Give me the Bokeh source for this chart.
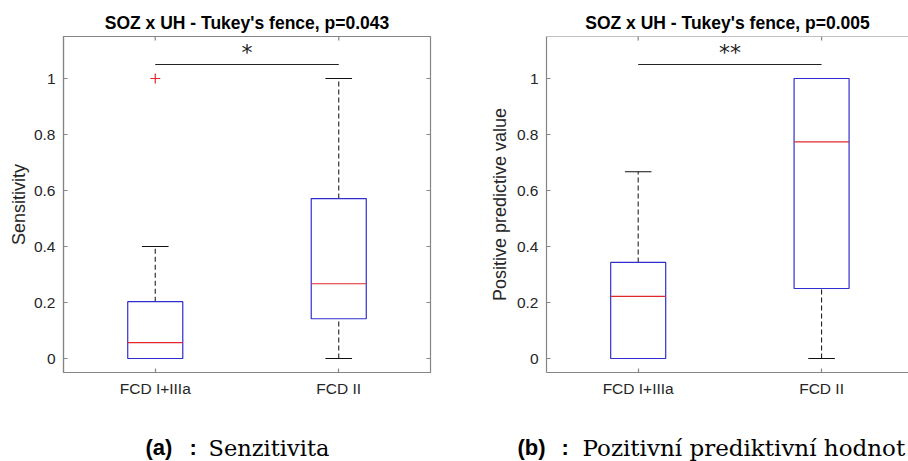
import math
from bokeh.plotting import figure
from bokeh.models import Range1d, FixedTicker, NumeralTickFormatter, Label, Span
from bokeh.layouts import row, column
from bokeh.embed import file_html
from bokeh.resources import INLINE
from bokeh.core.properties import value

# ---------------- data ----------------
categories = ["FCD I+IIIa", "FCD II"]
positions = [1, 2]
y_ticks = [0, 0.2, 0.4, 0.6, 0.8, 1]

# panel (a) Sensitivity
sens_lower = [0.0, 0.0]
sens_q1 = [0.0, 0.142]
sens_median = [0.057, 0.267]
sens_q3 = [0.203, 0.571]
sens_upper = [0.40, 1.0]
sens_outlier_pos = [1]
sens_outlier_val = [1.0]
sens_sig_level = 1.05
sens_stars = "*"
sens_title = "SOZ x UH - Tukey's fence, p=0.043"
sens_ylabel = "Sensitivity"
sens_caption_tag = "(a)"
sens_caption_text = "Senzitivita"

# panel (b) Positive predictive value
ppv_lower = [0.0, 0.0]
ppv_q1 = [0.0, 0.25]
ppv_median = [0.222, 0.774]
ppv_q3 = [0.343, 1.0]
ppv_upper = [0.667, 1.0]
ppv_outlier_pos = []
ppv_outlier_val = []
ppv_sig_level = 1.05
ppv_stars = "**"
ppv_title = "SOZ x UH - Tukey's fence, p=0.005"
ppv_ylabel = "Positive predictive value"
ppv_caption_tag = "(b)"
ppv_caption_text = "Pozitivní prediktivní hodnot"

sig_pair = [1, 2]

# ---------------- style ----------------
BOX_W = 0.3
CAP_W = 0.145
AX_COL = "#858585"
TXT_COL = "#262626"
BLUE = "#2f2fd0"
RED = "#e0282d"
FONT = "Liberation Sans"
MAIN_H = 430
CAP_H = 31


def style_axis(ax, standoff):
    ax.axis_line_color = AX_COL
    ax.axis_line_width = 1.2
    ax.major_tick_line_color = AX_COL
    ax.major_tick_line_width = 1.2
    ax.major_tick_in = 4
    ax.major_tick_out = 0
    ax.minor_tick_line_color = None
    ax.major_label_text_font = FONT
    ax.major_label_text_color = TXT_COL
    ax.major_label_text_font_size = "15.5px"
    ax.major_label_standoff = standoff


def make_panel(width, bl, br, x_end, lower, q1, med, q3, upper, out_pos, out_val,
               sig_level, stars, title, ylabel, label_standoff, right_edge):
    xr = Range1d(0.5, x_end)
    yr = Range1d(-0.05, 1.15)
    p = figure(width=width, height=MAIN_H, x_range=xr, y_range=yr, output_backend="svg",
               toolbar_location=None, min_border_left=bl, min_border_right=br,
               min_border_top=36, min_border_bottom=MAIN_H - 372, title=title)
    p.grid.visible = False
    p.background_fill_color = "white"
    p.border_fill_color = "white"
    if right_edge:
        p.outline_line_color = AX_COL
        p.outline_line_width = 1.2
    else:
        # right border lies outside the picture: draw only the top border
        p.outline_line_color = None
        p.add_layout(Span(location=yr.end, dimension="width", line_color=AX_COL,
                          line_width=1.2))

    p.title.text_font = FONT
    p.title.text_font_size = "17.5px"
    p.title.text_font_style = "bold"
    p.title.text_color = "#000000"
    p.title.align = "center"
    p.title.standoff = 7

    xa = p.xaxis[0]
    xa.ticker = FixedTicker(ticks=positions)
    xa.major_label_overrides = {pos: cat for pos, cat in zip(positions, categories)}
    style_axis(xa, 7)
    ya = p.yaxis[0]
    ya.ticker = FixedTicker(ticks=y_ticks)
    ya.formatter = NumeralTickFormatter(format="0.[0]")
    style_axis(ya, 8)
    ya.axis_label = ylabel
    ya.axis_label_text_font = FONT
    ya.axis_label_text_font_size = "18px"
    ya.axis_label_text_font_style = "normal"
    ya.axis_label_text_color = TXT_COL
    ya.axis_label_standoff = label_standoff

    # inward ticks on top edge (and right edge when it is visible)
    p.ray(x=positions, y=[yr.end] * len(positions), length=4, length_units="screen",
          angle=-math.pi / 2, line_color=AX_COL, line_width=1.2)
    if right_edge:
        p.ray(x=[xr.end] * len(y_ticks), y=y_ticks, length=4, length_units="screen",
              angle=math.pi, line_color=AX_COL, line_width=1.2)

    x = positions
    # whiskers (dashed)
    p.segment(x0=x, x1=x, y0=q3, y1=upper, line_color="#222222", line_width=1.1, line_dash="5 3")
    p.segment(x0=x, x1=x, y0=lower, y1=q1, line_color="#222222", line_width=1.1, line_dash="5 3")
    # caps
    p.segment(x0=[v - CAP_W / 2 for v in x], x1=[v + CAP_W / 2 for v in x], y0=upper, y1=upper,
              line_color="#111111", line_width=1.2)
    p.segment(x0=[v - CAP_W / 2 for v in x], x1=[v + CAP_W / 2 for v in x], y0=lower, y1=lower,
              line_color="#111111", line_width=1.2)
    # boxes
    p.quad(left=[v - BOX_W / 2 for v in x], right=[v + BOX_W / 2 for v in x], bottom=q1, top=q3,
           fill_color=None, line_color=BLUE, line_width=1.2)
    # medians
    p.segment(x0=[v - BOX_W / 2 for v in x], x1=[v + BOX_W / 2 for v in x], y0=med, y1=med,
              line_color=RED, line_width=1.2)
    # outliers
    if out_pos:
        p.scatter(x=out_pos, y=out_val, marker="cross", size=10, line_color=RED, line_width=1.2)
    # significance bracket
    p.segment(x0=[sig_pair[0]], x1=[sig_pair[1]], y0=[sig_level], y1=[sig_level],
              line_color="#222222", line_width=1.2)
    p.text(x=[sum(sig_pair) / 2], y=[sig_level], text=[stars], text_align="center",
           text_baseline="bottom", text_font=value("DejaVu Sans"), text_font_size="22px",
           text_color="#222222")
    return p


def make_caption(width, tag, text, tag_x, colon_x, text_x, text_size):
    c = figure(width=width, height=CAP_H, output_backend="svg", toolbar_location=None,
               x_axis_location=None, y_axis_location=None, min_border_left=0,
               min_border_right=0, min_border_top=0, min_border_bottom=0)
    c.outline_line_color = None
    c.grid.visible = False
    c.border_fill_color = "white"
    for t, xx in ((tag, tag_x), (":", colon_x)):
        c.add_layout(Label(x=xx, y=14, x_units="screen", y_units="screen", text=t,
                           text_font="Liberation Sans", text_font_style="bold",
                           text_font_size="22px", text_color="#000000",
                           text_baseline="alphabetic"))
    c.add_layout(Label(x=text_x, y=14, x_units="screen", y_units="screen", text=text,
                       text_font="DejaVu Serif", text_font_size=text_size,
                       text_color="#000000", text_baseline="alphabetic"))
    return c


p1 = make_panel(478, 63, 48, 2.5, sens_lower, sens_q1, sens_median, sens_q3, sens_upper,
                sens_outlier_pos, sens_outlier_val, sens_sig_level, sens_stars, sens_title,
                sens_ylabel, 2, True)
p2 = make_panel(430, 68, 0, 2.474, ppv_lower, ppv_q1, ppv_median, ppv_q3, ppv_upper,
                ppv_outlier_pos, ppv_outlier_val, ppv_sig_level, ppv_stars, ppv_title,
                ppv_ylabel, 4, False)
c1 = make_caption(478, sens_caption_tag, sens_caption_text, 145, 189, 208, "22.5px")
c2 = make_caption(430, ppv_caption_tag, ppv_caption_text, 39, 83, 104, "23px")

layout = column(row(p1, p2), row(c1, c2))
open("out.html", "w").write(file_html(layout, INLINE))
